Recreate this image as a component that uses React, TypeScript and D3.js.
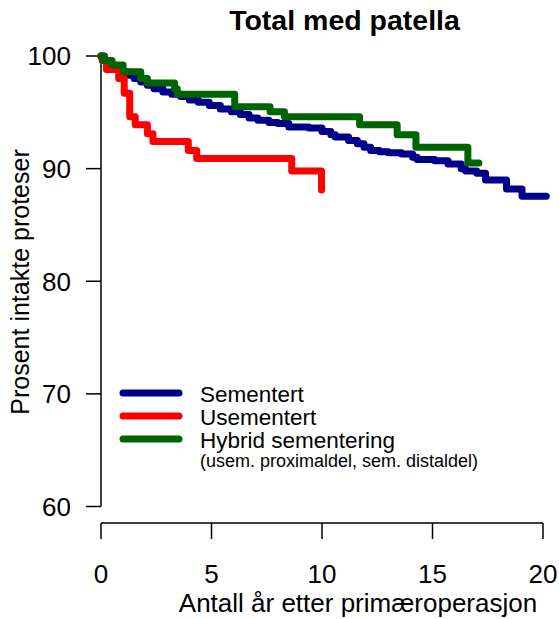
import React from 'react';
import * as d3 from 'd3';

// Kaplan-Meier style survival steps: [years, percent]
const sementert: [number, number][] = [
  [0, 100], [0.15, 99.6], [0.35, 99.2], [0.6, 98.9], [0.9, 98.6], [1.2, 98.3], [1.5, 98.0],
  [1.8, 97.7], [2.1, 97.4], [2.4, 97.1], [2.8, 96.8], [3.2, 96.6], [3.6, 96.4], [4.0, 96.1],
  [4.4, 95.9], [4.9, 95.6], [5.4, 95.3], [5.9, 95.05], [6.3, 94.8], [6.7, 94.5], [7.1, 94.3],
  [7.6, 94.1], [8.0, 94.0], [8.5, 93.7], [9.4, 93.6], [10.0, 93.3], [10.4, 93.0], [10.6, 92.8],
  [11.2, 92.5], [11.6, 92.2], [11.9, 91.9], [12.2, 91.6], [12.6, 91.5], [13.0, 91.4], [13.6, 91.3],
  [14.1, 91.0], [14.3, 90.8], [15.1, 90.7], [15.7, 90.4], [16.3, 90.0], [16.5, 89.8], [17.0, 89.6],
  [17.4, 89.0], [18.35, 88.2], [19.05, 87.55], [20.15, 87.55],
];

const usementert: [number, number][] = [
  [0, 100], [0.05, 99.6], [0.25, 98.8], [0.8, 98.0], [1.05, 96.7], [1.3, 94.6], [1.55, 93.9],
  [2.1, 93.1], [2.35, 92.4], [3.95, 91.6], [4.33, 90.9], [8.63, 89.8], [9.98, 88.1], [9.98, 88.1],
];

const hybrid: [number, number][] = [
  [0, 100], [0.1, 99.6], [0.5, 99.2], [1.0, 98.6], [1.8, 98.0], [2.1, 97.6], [3.33, 97.1],
  [3.45, 96.6], [6.05, 95.5], [7.65, 95.05], [8.3, 94.6], [11.7, 93.9], [13.4, 93.0],
  [14.25, 91.9], [16.6, 90.5], [17.1, 90.5],
];

const xTicks = [0, 5, 10, 15, 20];
const yTicks = [60, 70, 80, 90, 100];

const seriesNames = ['Sementert', 'Usementert', 'Hybrid sementering'];
const seriesColors = ['#00008B', '#FF0000', '#006400'];

const W = 559;
const H = 619;
const font = '"Liberation Sans", Arial, Helvetica, sans-serif';

const App: React.FC = () => {
  const x = d3.scaleLinear().domain([0, 20]).range([101, 543]);
  const y = d3.scaleLinear().domain([60, 100]).range([506.5, 56]);

  const line = d3.line<[number, number]>()
    .x(d => x(d[0]))
    .y(d => y(d[1]))
    .curve(d3.curveStepAfter);

  const allSeries = [sementert, usementert, hybrid];
  const yAxisX = x(0);
  const xAxisY = 523;

  return (
    <svg
      width={W}
      height={H}
      style={{ position: 'fixed', left: 0, top: 0, background: '#fff' }}
      fontFamily={font}
    >
      {/* title */}
      <text x={344.5} y={30} textAnchor="middle" fontWeight="bold" fontSize={28.5}>
        Total med patella
      </text>

      {/* y axis */}
      <line x1={yAxisX} x2={yAxisX} y1={y(100)} y2={y(60)} stroke="#000" strokeWidth={1.5} />
      {yTicks.map(t => (
        <g key={t}>
          <line x1={yAxisX - 15} x2={yAxisX} y1={y(t)} y2={y(t)} stroke="#000" strokeWidth={1.5} />
          <text x={71} y={y(t)} dy="0.36em" textAnchor="end" fontSize={26}>{t}</text>
        </g>
      ))}
      <text
        transform={`translate(29,${282}) rotate(-90)`}
        textAnchor="middle"
        fontSize={25}
      >
        Prosent intakte proteser
      </text>

      {/* x axis */}
      <line x1={x(0)} x2={x(20)} y1={xAxisY} y2={xAxisY} stroke="#000" strokeWidth={1.5} />
      {xTicks.map(t => (
        <g key={t}>
          <line x1={x(t)} x2={x(t)} y1={xAxisY} y2={xAxisY + 16} stroke="#000" strokeWidth={1.5} />
          <text x={x(t)} y={583} textAnchor="middle" fontSize={26}>{t}</text>
        </g>
      ))}
      <text x={358} y={612} textAnchor="middle" fontSize={26}>
        Antall år etter primæroperasjon
      </text>

      {/* curves */}
      {allSeries.map((s, i) => (
        <path
          key={i}
          d={line(s) || ''}
          fill="none"
          stroke={seriesColors[i]}
          strokeWidth={7}
          strokeLinecap="round"
          strokeLinejoin="round"
        />
      ))}

      {/* legend */}
      {seriesNames.map((name, i) => (
        <g key={name}>
          <line
            x1={123} x2={179}
            y1={393 + i * 23} y2={393 + i * 23}
            stroke={seriesColors[i]} strokeWidth={7} strokeLinecap="round"
          />
          <text x={200} y={402 + i * 23} fontSize={22.5}>{name}</text>
        </g>
      ))}
      <text x={200} y={467} fontSize={18}>(usem. proximaldel, sem. distaldel)</text>
    </svg>
  );
};

export default App;
